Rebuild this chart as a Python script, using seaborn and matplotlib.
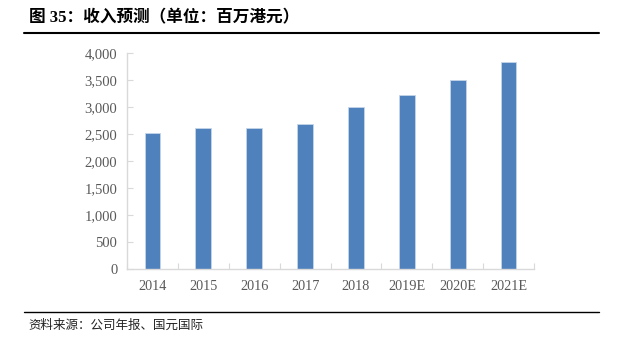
import matplotlib
matplotlib.use("Agg")
import matplotlib.pyplot as plt
import seaborn as sns
import pandas as pd
from matplotlib.lines import Line2D
from matplotlib.ticker import FuncFormatter

years = ["2014", "2015", "2016", "2017", "2018", "2019E", "2020E", "2021E"]
revenue = [2530, 2622, 2622, 2690, 3000, 3228, 3500, 3845]
title_text = "图 35：收入预测（单位：百万港元）"
source_text = "资料来源：公司年报、国元国际"

sns.set_theme(style="white")
plt.rcParams['font.family'] = ['Liberation Serif', 'Noto Sans CJK SC', 'DejaVu Sans']

df = pd.DataFrame({"year": years, "revenue": revenue})

fig = plt.figure(figsize=(6.23, 3.41), dpi=100)
ax = fig.add_axes([127/623, (341-269.3)/341, (534-127)/623, (269.3-53.3)/341])

sns.barplot(data=df, x="year", y="revenue", ax=ax, color="#4F81BD",
            saturation=1, width=0.31, edgecolor="#c5d5ea", linewidth=0.6)

ax.set_ylim(0, 4000)
ax.set_yticks(range(0, 4001, 500))
ax.yaxis.set_major_formatter(FuncFormatter(lambda v, p: f"{int(v):,}"))
ax.set_xlim(-0.5, len(years) - 0.5)
ax.set_xlabel("")
ax.set_ylabel("")

for s in ["top", "right"]:
    ax.spines[s].set_visible(False)
for s in ["left", "bottom"]:
    ax.spines[s].set_color("#d9d9d9")
    ax.spines[s].set_linewidth(1.0)

ax.tick_params(axis="y", direction="in", length=4, width=0.8, color="#d9d9d9",
               labelsize=10.5, labelcolor="#595959", pad=7, left=True)
ax.tick_params(axis="x", which="major", length=0, labelsize=10.3,
               labelcolor="#595959", pad=8)
ax.set_xticks([i + 0.5 for i in range(-1, len(years))], minor=True)
ax.tick_params(axis="x", which="minor", direction="in", length=4, width=0.8,
               color="#d9d9d9", bottom=True)
for lbl in ax.get_xticklabels() + ax.get_yticklabels():
    lbl.set_family(['Liberation Serif', 'DejaVu Sans'])

fig.text(29/623, 0.947, title_text, fontsize=12, fontweight="bold",
         family=['Liberation Serif', 'Noto Sans CJK SC', 'DejaVu Sans'],
         va="center", ha="left", color="black")
fig.add_artist(Line2D([24/623, 599/623], [0.9023, 0.9023], color="black", lw=1.5))
fig.add_artist(Line2D([24/623, 599/623], [0.0859, 0.0859], color="black", lw=1.0))
fig.text(28/623, 0.047, source_text, fontsize=9, style="italic",
         family=['Noto Sans CJK SC', 'DejaVu Sans'], va="center", ha="left", color="#222222")

fig.savefig("out.png", dpi=100)
